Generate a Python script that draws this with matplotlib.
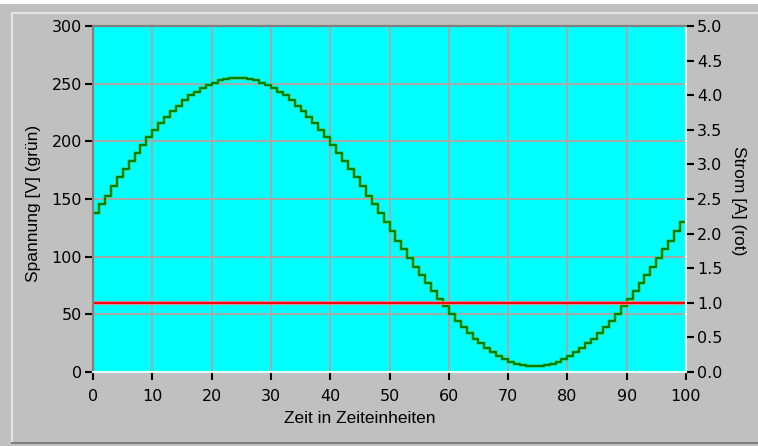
import matplotlib
matplotlib.use('Agg')
import matplotlib.pyplot as plt
import matplotlib.patheffects as pe
from matplotlib.lines import Line2D
from matplotlib.patches import Rectangle

zeit = list(range(101))
spannung = [138, 146, 153, 161, 169, 176, 183, 190, 197, 204,
            210, 216, 221, 226, 231, 236, 240, 243, 246, 249,
            251, 253, 254, 255, 255, 255, 254, 253, 251, 249,
            246, 243, 240, 236, 231, 226, 221, 216, 210, 204,
            197, 190, 183, 176, 169, 161, 153, 146, 138, 130,
            122, 114, 107, 99, 91, 84, 77, 70, 63, 57,
            50, 44, 39, 34, 29, 25, 21, 17, 14, 11,
            9, 7, 6, 5, 5, 5, 6, 7, 9, 11,
            14, 17, 21, 25, 29, 34, 39, 44, 50, 57,
            63, 70, 77, 84, 91, 99, 107, 114, 122, 130,
            130]
strom_zeit = [0, 100]
strom = [1.0, 1.0]

x_ticks = [0, 10, 20, 30, 40, 50, 60, 70, 80, 90, 100]
y_ticks = [0, 50, 100, 150, 200, 250, 300]
y2_ticks = [0.0, 0.5, 1.0, 1.5, 2.0, 2.5, 3.0, 3.5, 4.0, 4.5, 5.0]

plt.rcParams['font.family'] = ['Liberation Sans', 'DejaVu Sans']
W, H = 758, 446
TICK_FONT = dict(family='DejaVu Sans', size=11.5)

fig = plt.figure(figsize=(W / 100, H / 100), dpi=100, facecolor='#C0C0C0')
ax = fig.add_axes([93 / W, 1 - 372 / H, (686 - 93) / W, (372 - 26) / H])
ax.set_facecolor('#00FFFF')

# Rahmen um das Panel
def px_line(x0, y0, x1, y1, color):
    fig.add_artist(Line2D([x0 / W, x1 / W], [1 - y0 / H, 1 - y1 / H],
                          transform=fig.transFigure, color=color, lw=1.5))

fig.add_artist(Rectangle((0, 1 - 4 / H), 1, 4 / H, transform=fig.transFigure,
                         facecolor='white', edgecolor='none'))
px_line(12, 13, W, 13, '#E4E4E4')
px_line(12, 13, 12, 443, '#E4E4E4')
px_line(12, 443, W, 443, '#808080')

ax.step(zeit, spannung, where='post', color='#008000', lw=1.5, zorder=3,
        path_effects=[pe.withStroke(linewidth=2.8, foreground='#30D890')])

ax.set_xlim(0, 100)
ax.set_ylim(0, 300)
ax.set_xticks(x_ticks)
ax.set_yticks(y_ticks)
ax.set_xticklabels([str(v) for v in x_ticks], **TICK_FONT)
ax.set_yticklabels([str(v) for v in y_ticks], **TICK_FONT)
ax.grid(True, color='#A8A8A8', lw=1.4)
ax.set_axisbelow(True)
ax.tick_params(direction='out', length=6, width=1.5, color='black', pad=2)
ax.tick_params(axis='x', pad=6)
ax.set_xlabel('Zeit in Zeiteinheiten', fontsize=12.5, va='center')
ax.xaxis.set_label_coords(0.45, -0.133)
ax.set_ylabel('Spannung [V] (grün)', fontsize=12.5, va='center')
ax.yaxis.set_label_coords(-0.101, 0.486)

ax2 = ax.twinx()
ax2.plot(strom_zeit, strom, color='#FF0000', lw=1.5,
         path_effects=[pe.withStroke(linewidth=2.6, foreground='#FF8080')])
ax2.set_ylim(0, 5)
ax2.set_yticks(y2_ticks)
ax2.set_yticklabels([f'{v:.1f}' for v in y2_ticks], **TICK_FONT)
ax2.tick_params(direction='out', length=6, width=1.5, color='black', pad=2)
ax2.set_ylabel('Strom [A] (rot)', fontsize=12.5, rotation=270, va='center')
ax2.yaxis.set_label_coords(1.088, 0.494)

for a in (ax, ax2):
    a.spines['left'].set_color('#808080')
    a.spines['top'].set_color('#808080')
    a.spines['right'].set_color('#E0FFFF')
    a.spines['bottom'].set_color('#E0FFFF')
    for s in a.spines.values():
        s.set_linewidth(1.5)

fig.savefig('out.png', dpi=100, facecolor=fig.get_facecolor())
